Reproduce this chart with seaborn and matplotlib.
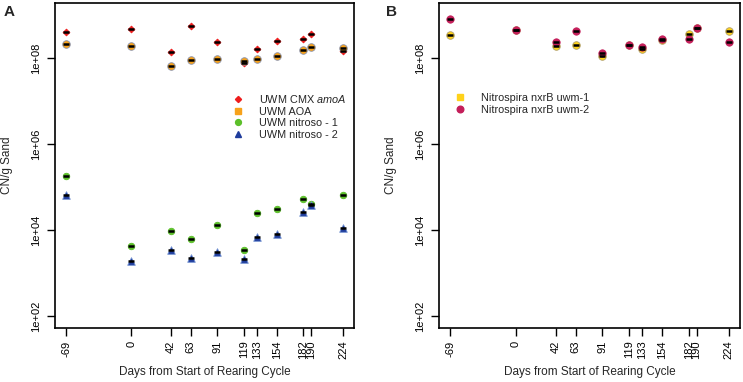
import numpy as np
import pandas as pd
import matplotlib
matplotlib.use("Agg")
import matplotlib.pyplot as plt
import seaborn as sns
from matplotlib.lines import Line2D
from matplotlib.ticker import FixedLocator, NullLocator

# Dias de coleta
days = [-69, 0, 42, 63, 91, 119, 133, 154, 182, 190, 224]

# Painel A - copias por grama de areia
cmx_amoa = [4.0e8, 4.7e8, 1.4e8, 5.6e8, 2.3e8, 7.5e7, 1.6e8, 2.5e8, 2.7e8, 3.7e8, 1.45e8]
uwm_aoa = [2.1e8, 1.9e8, 6.6e7, 8.8e7, 9.5e7, 8.6e7, 9.6e7, 1.13e8, 1.5e8, 1.8e8, 1.7e8]
nitroso_1 = [1.8e5, 4.3e3, 9.6e3, 6.2e3, 1.3e4, 3.5e3, 2.5e4, 3.1e4, 5.2e4, 4.0e4, 6.5e4]
nitroso_2 = [6.6e4, 1.9e3, 3.4e3, 2.2e3, 3.1e3, 2.1e3, 6.9e3, 8.2e3, 2.6e4, 3.9e4, 1.1e4]

# Painel B - Nitrospira nxrB
nxrb_1 = [3.4e8, 4.4e8, 1.9e8, 2.0e8, 1.1e8, 2.0e8, 1.6e8, 2.6e8, 3.7e8, 4.9e8, 4.2e8]
nxrb_2 = [8.1e8, 4.5e8, 2.4e8, 4.2e8, 1.3e8, 2.0e8, 1.8e8, 2.7e8, 2.7e8, 5.0e8, 2.4e8]

labels_a = [r"UWM CMX $\it{amoA}$", "UWM AOA", "UWM nitroso - 1", "UWM nitroso - 2"]
labels_b = ["Nitrospira nxrB uwm-1", "Nitrospira nxrB uwm-2"]
y_ticks = [1e2, 1e4, 1e6, 1e8]
y_tick_labels = ["1e+02", "1e+04", "1e+06", "1e+08"]

sns.set_theme(style="ticks")
plt.rcParams["font.family"] = ["Liberation Sans", "DejaVu Sans"]
plt.rcParams["mathtext.fontset"] = "custom"
plt.rcParams["mathtext.rm"] = "Liberation Sans"
plt.rcParams["mathtext.it"] = "Liberation Sans:italic"

fig = plt.figure(figsize=(7.43, 3.82), dpi=100)
ax_a = fig.add_axes([55 / 743, 1 - 328 / 382, 299 / 743, 325 / 382])
ax_b = fig.add_axes([439 / 743, 1 - 328 / 382, 301 / 743, 325 / 382])

# estilo de cada serie: (valores, marcador, cor, borda, tamanho)
series_a = [
    (cmx_amoa, "D", "#ee1c1c", "#ee1c1c", 12),
    (uwm_aoa, "o", "#f7a21b", "#8a94b0", 30),
    (nitroso_1, "o", "#5cbf2a", "#5cbf2a", 22),
    (nitroso_2, "^", "#1f3c9c", "#6f8fd0", 30),
]
series_b = [
    (nxrb_1, "o", "#ffd21a", "#b0a070", 30),
    (nxrb_2, "o", "#c41e5a", "#c41e5a", 28),
]


def draw_panel(ax, series, labels, legend_x, ylabel_x):
    for vals, mk, col, ec, sz in series:
        sns.scatterplot(x=days, y=vals, ax=ax, marker=mk, color=col,
                        edgecolor=ec, linewidth=0.6, s=sz, zorder=3)
    # traço preto (barras de erro pequenas)
    for vals, mk, col, ec, sz in series:
        sns.scatterplot(x=days, y=vals, ax=ax, marker="_", color="black",
                        linewidth=1.8, s=22, zorder=4)

    ax.set_yscale("log")
    ax.set_xlim(-80.7, 235.7)
    ax.set_ylim(10 ** 1.72, 10 ** 9.28)
    ax.yaxis.set_major_locator(FixedLocator(y_ticks))
    ax.yaxis.set_minor_locator(NullLocator())
    ax.set_yticklabels(y_tick_labels, rotation=90, va="center", fontsize=8)
    ax.set_xticks(days)
    ax.set_xticklabels([str(d) for d in days], rotation=90, fontsize=8)
    ax.tick_params(axis="both", direction="out", length=6, width=1.0,
                   color="black", labelcolor="black")
    ax.tick_params(axis="x", pad=3)
    ax.tick_params(axis="y", pad=4)
    for sp in ax.spines.values():
        sp.set_visible(True)
        sp.set_linewidth(1.2)
        sp.set_color("black")

    ax.set_xlabel("Days from Start of Rearing Cycle", fontsize=8.5)
    ax.set_ylabel("CN/g Sand", fontsize=8.5)
    ax.xaxis.set_label_coords(0.5, -0.118)
    ax.yaxis.set_label_coords(ylabel_x, 0.5)

    handles = []
    for vals, mk, col, ec, sz in series:
        m = "s" if (mk == "o" and col in ("#f7a21b", "#ffd21a")) else mk
        handles.append(Line2D([], [], linestyle="none", marker=m,
                              markerfacecolor=col, markeredgecolor=col,
                              markersize=np.sqrt(sz) * 0.9))
    ax.legend(handles, labels, loc="upper left", frameon=False, fontsize=7.8,
              borderpad=0, handlelength=1.0, handletextpad=1.4,
              labelspacing=0.15, borderaxespad=0,
              bbox_to_anchor=(legend_x, 0.723))
    return ax


draw_panel(ax_a, series_a, labels_a, 0.595, -0.140)
draw_panel(ax_b, series_b, labels_b, 0.0525, -0.1395)

fig.text(4 / 743, 1 - 12 / 382, "A", fontsize=11, fontweight="bold", va="center")
fig.text(386 / 743, 1 - 12 / 382, "B", fontsize=11, fontweight="bold", va="center")

fig.savefig("out.png", dpi=100)
